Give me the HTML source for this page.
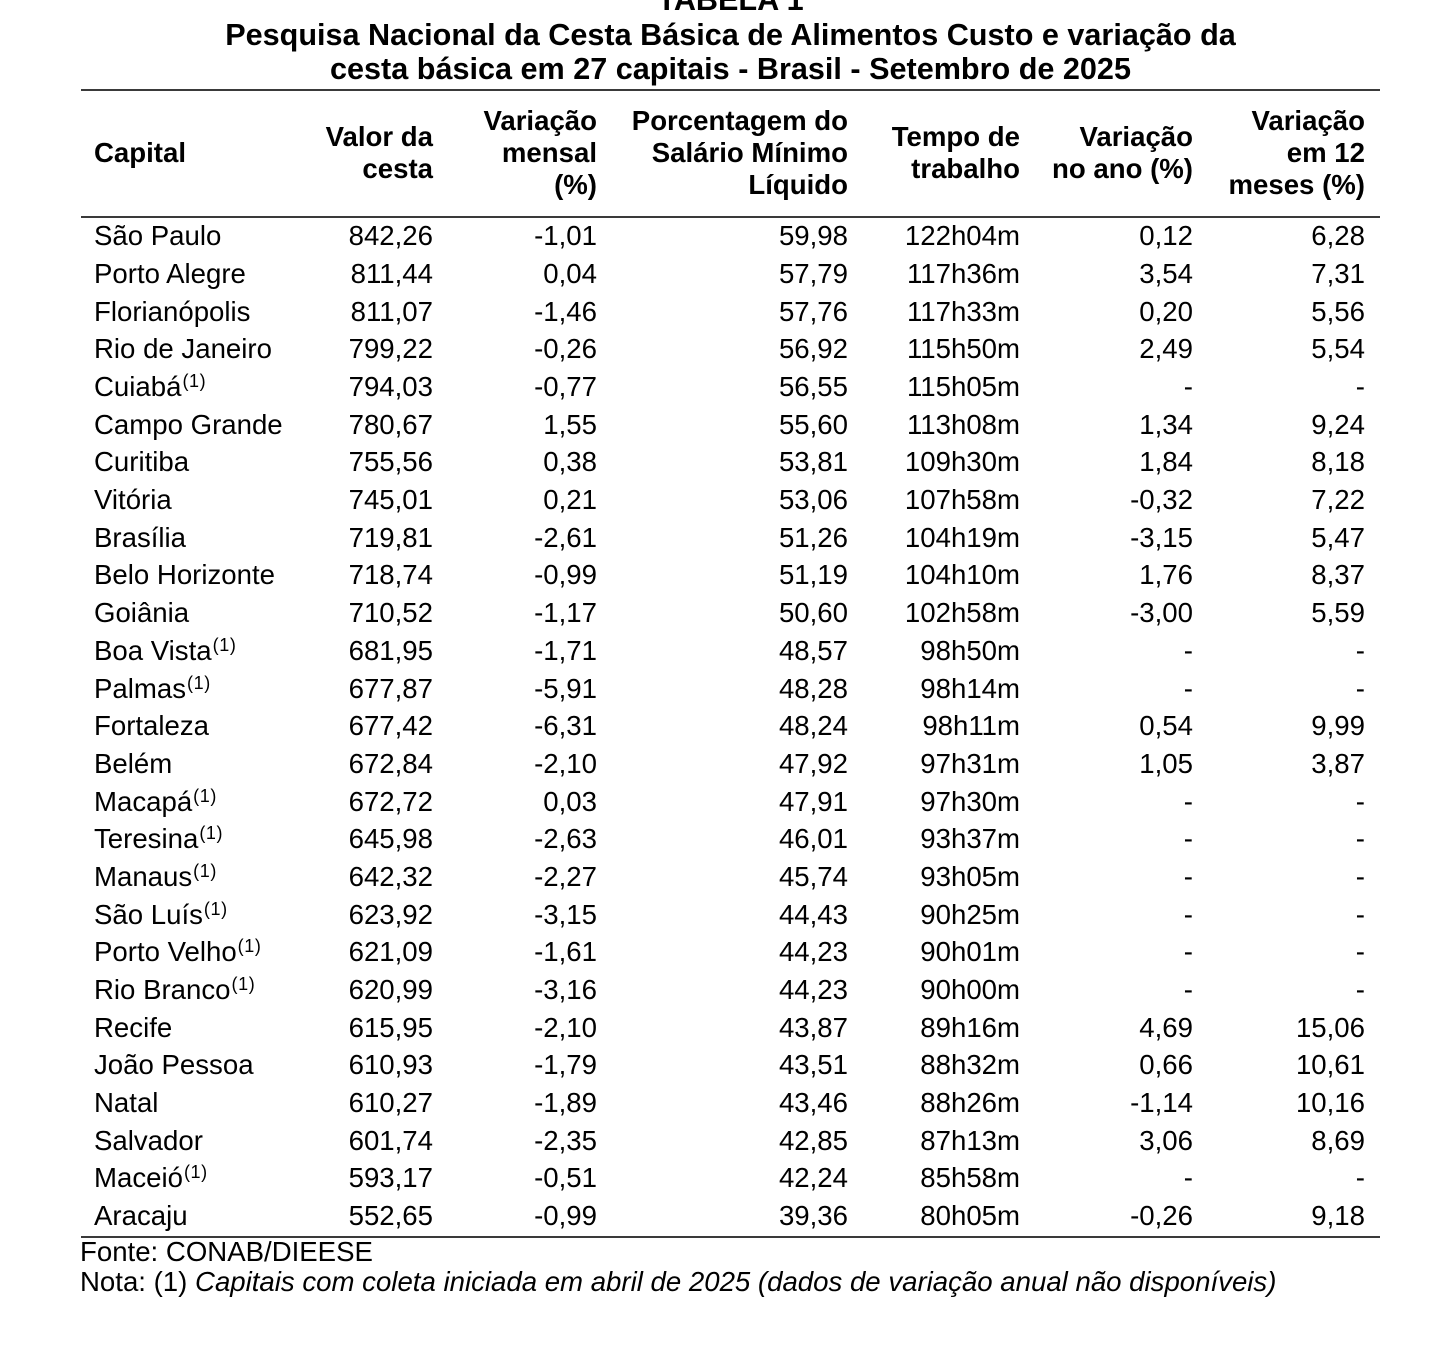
<!DOCTYPE html>
<html>
<head>
<meta charset="utf-8">
<style>
  html, body { margin:0; padding:0; background:#fff; }
  body { width:1452px; height:1362px; position:relative; overflow:hidden;
         font-family:"Liberation Sans", Arial, sans-serif; color:#000; }
  .title { position:absolute; left:81px; width:1299px; text-align:center;
           font-weight:bold; font-size:30.6px; line-height:33.3px; white-space:nowrap; }
  .hr { position:absolute; left:81px; width:1299px; height:2px; background:#3a3a3a; }
  .h { position:absolute; font-weight:bold; font-size:27.6px; line-height:32px; white-space:nowrap; text-align:right; }
  #rows { position:absolute; top:217.3px; left:0; width:1452px; }
  .r { position:relative; height:37.69px; }
  .r span { position:absolute; top:0; font-size:27.6px; line-height:37.69px; white-space:nowrap; }
  .c0 { left:94px; }
  .c1 { right:1019px; }
  .c2 { right:855px; }
  .c3 { right:604px; }
  .c4 { right:432px; }
  .c5 { right:259px; }
  .c6 { right:87px; }
  sup { font-size:18px; vertical-align:9px; line-height:0; letter-spacing:0.6px; margin-left:1px; }
  .foot { position:absolute; left:80px; font-size:27.6px; line-height:30px; white-space:nowrap; }
</style>
</head>
<body>
  <div class="title" style="top:-15.7px;">TABELA 1</div>
  <div class="title" style="top:19.4px;">Pesquisa Nacional da Cesta Básica de Alimentos Custo e variação da</div>
  <div class="title" style="top:52.7px;">cesta básica em 27 capitais - Brasil - Setembro de 2025</div>

  <div class="hr" style="top:88.5px;"></div>

  <div class="h" style="left:94px; top:137.2px; text-align:left;">Capital</div>
  <div class="h" style="right:1019px; top:121.2px;">Valor da<br>cesta</div>
  <div class="h" style="right:855px; top:105.2px;">Variação<br>mensal<br>(%)</div>
  <div class="h" style="right:604px; top:105.2px;">Porcentagem do<br>Salário Mínimo<br>Líquido</div>
  <div class="h" style="right:432px; top:121.2px;">Tempo de<br>trabalho</div>
  <div class="h" style="right:259px; top:121.2px;">Variação<br>no ano (%)</div>
  <div class="h" style="right:87px; top:105.2px;">Variação<br>em 12<br>meses (%)</div>

  <div class="hr" style="top:215.5px;"></div>

  <div id="rows">
    <div class="r"><span class="c0">São Paulo</span><span class="c1">842,26</span><span class="c2">-1,01</span><span class="c3">59,98</span><span class="c4">122h04m</span><span class="c5">0,12</span><span class="c6">6,28</span></div>
    <div class="r"><span class="c0">Porto Alegre</span><span class="c1">811,44</span><span class="c2">0,04</span><span class="c3">57,79</span><span class="c4">117h36m</span><span class="c5">3,54</span><span class="c6">7,31</span></div>
    <div class="r"><span class="c0">Florianópolis</span><span class="c1">811,07</span><span class="c2">-1,46</span><span class="c3">57,76</span><span class="c4">117h33m</span><span class="c5">0,20</span><span class="c6">5,56</span></div>
    <div class="r"><span class="c0">Rio de Janeiro</span><span class="c1">799,22</span><span class="c2">-0,26</span><span class="c3">56,92</span><span class="c4">115h50m</span><span class="c5">2,49</span><span class="c6">5,54</span></div>
    <div class="r"><span class="c0">Cuiabá<sup>(1)</sup></span><span class="c1">794,03</span><span class="c2">-0,77</span><span class="c3">56,55</span><span class="c4">115h05m</span><span class="c5">-</span><span class="c6">-</span></div>
    <div class="r"><span class="c0">Campo Grande</span><span class="c1">780,67</span><span class="c2">1,55</span><span class="c3">55,60</span><span class="c4">113h08m</span><span class="c5">1,34</span><span class="c6">9,24</span></div>
    <div class="r"><span class="c0">Curitiba</span><span class="c1">755,56</span><span class="c2">0,38</span><span class="c3">53,81</span><span class="c4">109h30m</span><span class="c5">1,84</span><span class="c6">8,18</span></div>
    <div class="r"><span class="c0">Vitória</span><span class="c1">745,01</span><span class="c2">0,21</span><span class="c3">53,06</span><span class="c4">107h58m</span><span class="c5">-0,32</span><span class="c6">7,22</span></div>
    <div class="r"><span class="c0">Brasília</span><span class="c1">719,81</span><span class="c2">-2,61</span><span class="c3">51,26</span><span class="c4">104h19m</span><span class="c5">-3,15</span><span class="c6">5,47</span></div>
    <div class="r"><span class="c0">Belo Horizonte</span><span class="c1">718,74</span><span class="c2">-0,99</span><span class="c3">51,19</span><span class="c4">104h10m</span><span class="c5">1,76</span><span class="c6">8,37</span></div>
    <div class="r"><span class="c0">Goiânia</span><span class="c1">710,52</span><span class="c2">-1,17</span><span class="c3">50,60</span><span class="c4">102h58m</span><span class="c5">-3,00</span><span class="c6">5,59</span></div>
    <div class="r"><span class="c0">Boa Vista<sup>(1)</sup></span><span class="c1">681,95</span><span class="c2">-1,71</span><span class="c3">48,57</span><span class="c4">98h50m</span><span class="c5">-</span><span class="c6">-</span></div>
    <div class="r"><span class="c0">Palmas<sup>(1)</sup></span><span class="c1">677,87</span><span class="c2">-5,91</span><span class="c3">48,28</span><span class="c4">98h14m</span><span class="c5">-</span><span class="c6">-</span></div>
    <div class="r"><span class="c0">Fortaleza</span><span class="c1">677,42</span><span class="c2">-6,31</span><span class="c3">48,24</span><span class="c4">98h11m</span><span class="c5">0,54</span><span class="c6">9,99</span></div>
    <div class="r"><span class="c0">Belém</span><span class="c1">672,84</span><span class="c2">-2,10</span><span class="c3">47,92</span><span class="c4">97h31m</span><span class="c5">1,05</span><span class="c6">3,87</span></div>
    <div class="r"><span class="c0">Macapá<sup>(1)</sup></span><span class="c1">672,72</span><span class="c2">0,03</span><span class="c3">47,91</span><span class="c4">97h30m</span><span class="c5">-</span><span class="c6">-</span></div>
    <div class="r"><span class="c0">Teresina<sup>(1)</sup></span><span class="c1">645,98</span><span class="c2">-2,63</span><span class="c3">46,01</span><span class="c4">93h37m</span><span class="c5">-</span><span class="c6">-</span></div>
    <div class="r"><span class="c0">Manaus<sup>(1)</sup></span><span class="c1">642,32</span><span class="c2">-2,27</span><span class="c3">45,74</span><span class="c4">93h05m</span><span class="c5">-</span><span class="c6">-</span></div>
    <div class="r"><span class="c0">São Luís<sup>(1)</sup></span><span class="c1">623,92</span><span class="c2">-3,15</span><span class="c3">44,43</span><span class="c4">90h25m</span><span class="c5">-</span><span class="c6">-</span></div>
    <div class="r"><span class="c0">Porto Velho<sup>(1)</sup></span><span class="c1">621,09</span><span class="c2">-1,61</span><span class="c3">44,23</span><span class="c4">90h01m</span><span class="c5">-</span><span class="c6">-</span></div>
    <div class="r"><span class="c0">Rio Branco<sup>(1)</sup></span><span class="c1">620,99</span><span class="c2">-3,16</span><span class="c3">44,23</span><span class="c4">90h00m</span><span class="c5">-</span><span class="c6">-</span></div>
    <div class="r"><span class="c0">Recife</span><span class="c1">615,95</span><span class="c2">-2,10</span><span class="c3">43,87</span><span class="c4">89h16m</span><span class="c5">4,69</span><span class="c6">15,06</span></div>
    <div class="r"><span class="c0">João Pessoa</span><span class="c1">610,93</span><span class="c2">-1,79</span><span class="c3">43,51</span><span class="c4">88h32m</span><span class="c5">0,66</span><span class="c6">10,61</span></div>
    <div class="r"><span class="c0">Natal</span><span class="c1">610,27</span><span class="c2">-1,89</span><span class="c3">43,46</span><span class="c4">88h26m</span><span class="c5">-1,14</span><span class="c6">10,16</span></div>
    <div class="r"><span class="c0">Salvador</span><span class="c1">601,74</span><span class="c2">-2,35</span><span class="c3">42,85</span><span class="c4">87h13m</span><span class="c5">3,06</span><span class="c6">8,69</span></div>
    <div class="r"><span class="c0">Maceió<sup>(1)</sup></span><span class="c1">593,17</span><span class="c2">-0,51</span><span class="c3">42,24</span><span class="c4">85h58m</span><span class="c5">-</span><span class="c6">-</span></div>
    <div class="r"><span class="c0">Aracaju</span><span class="c1">552,65</span><span class="c2">-0,99</span><span class="c3">39,36</span><span class="c4">80h05m</span><span class="c5">-0,26</span><span class="c6">9,18</span></div>
  </div>

  <div class="hr" style="top:1236px;"></div>

  <div class="foot" style="top:1237.3px;">Fonte: CONAB/DIEESE</div>
  <div class="foot" style="top:1267.3px;">Nota: (1) <i>Capitais com coleta iniciada em abril de 2025 (dados de variação anual não disponíveis)</i></div>
</body>
</html>
